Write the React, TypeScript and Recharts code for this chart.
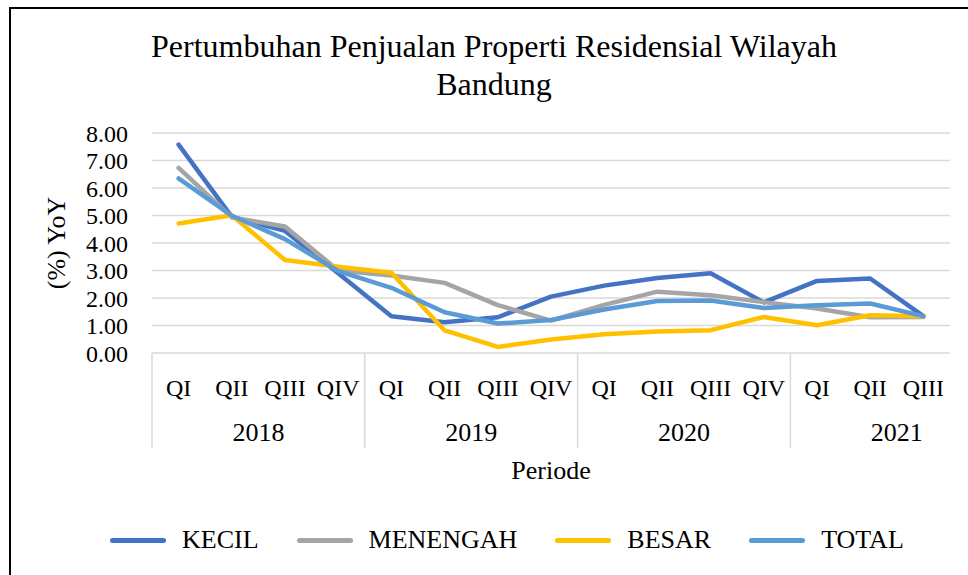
import { CartesianGrid, Line, LineChart, XAxis, YAxis } from 'recharts';

const quarters = ['QI', 'QII', 'QIII', 'QIV', 'QI', 'QII', 'QIII', 'QIV', 'QI', 'QII', 'QIII', 'QIV', 'QI', 'QII', 'QIII'];
const years = ['2018', '2018', '2018', '2018', '2019', '2019', '2019', '2019', '2020', '2020', '2020', '2020', '2021', '2021', '2021'];

const kecil = [7.58, 4.95, 4.44, 2.9, 1.34, 1.12, 1.3, 2.05, 2.45, 2.73, 2.9, 1.84, 2.62, 2.71, 1.34];
const menengah = [6.73, 4.93, 4.6, 3.0, 2.82, 2.55, 1.74, 1.18, 1.75, 2.23, 2.1, 1.85, 1.62, 1.3, 1.31];
const besar = [4.71, 5.01, 3.38, 3.14, 2.92, 0.82, 0.22, 0.49, 0.68, 0.78, 0.83, 1.31, 1.01, 1.37, 1.34];
const total = [6.35, 4.99, 4.14, 2.98, 2.37, 1.48, 1.07, 1.2, 1.58, 1.89, 1.91, 1.64, 1.74, 1.8, 1.34];

const yTicks = [0, 1, 2, 3, 4, 5, 6, 7, 8];

const series = [
  { key: 'kecil', name: 'KECIL', color: '#4472C4' },
  { key: 'menengah', name: 'MENENGAH', color: '#A5A5A5' },
  { key: 'besar', name: 'BESAR', color: '#FFC000' },
  { key: 'total', name: 'TOTAL', color: '#5B9BD5' },
];

const data = quarters.map((q, i) => ({
  id: i,
  q,
  year: years[i],
  kecil: kecil[i],
  menengah: menengah[i],
  besar: besar[i],
  total: total[i],
}));

const font = '"Liberation Serif", "Times New Roman", serif';
const gridColor = '#d9d9d9';
const band = 798 / quarters.length;

function QuarterTick(props: any) {
  const { x, y, payload } = props;
  const row = data[payload.value];
  const half = band / 2;
  return (
    <g>
      {row.q === 'QI' && (
        <line x1={x - half} x2={x - half} y1={y} y2={y + 95} stroke={gridColor} strokeWidth={1.5} />
      )}
      <text x={x} y={y + 43} textAnchor="middle" fontSize={24} fontFamily={font} fill="#000">
        {row.q}
      </text>
      {row.q === 'QII' && (
        <text x={x + half} y={y + 88} textAnchor="middle" fontSize={26} fontFamily={font} fill="#000">
          {row.year}
        </text>
      )}
    </g>
  );
}

function YLabel(props: any) {
  const { viewBox } = props;
  const cx = viewBox.x + 45;
  const cy = viewBox.y + viewBox.height / 2;
  return (
    <text
      x={cx}
      y={cy}
      transform={`rotate(-90 ${cx} ${cy})`}
      textAnchor="middle"
      dominantBaseline="central"
      fontSize={26}
      fontFamily={font}
      fill="#000"
    >
      (%) YoY
    </text>
  );
}

function XLabel(props: any) {
  const { viewBox } = props;
  return (
    <text
      x={viewBox.x + viewBox.width / 2}
      y={viewBox.y + 126}
      textAnchor="middle"
      fontSize={26}
      fontFamily={font}
      fill="#000"
    >
      Periode
    </text>
  );
}

export default function App() {
  return (
    <div
      style={{
        position: 'absolute',
        left: 9,
        top: 7,
        width: 959,
        height: 568,
        boxSizing: 'border-box',
        borderLeft: '2px solid #000',
        borderTop: '2px solid #000',
        overflow: 'hidden',
        background: '#fff',
        fontFamily: font,
      }}
    >
      <div
        style={{
          position: 'absolute',
          left: 0,
          top: 18,
          width: 966,
          textAlign: 'center',
          fontSize: 32,
          lineHeight: '38px',
          color: '#000',
        }}
      >
        Pertumbuhan Penjualan Properti Residensial Wilayah
        <br />
        Bandung
      </div>
      <div style={{ position: 'absolute', left: 0, top: 0 }}>
        <LineChart width={957} height={566} data={data} margin={{ top: 124, right: 18, bottom: 112, left: 0 }}>
          <CartesianGrid horizontal vertical={false} stroke={gridColor} strokeWidth={1.5} />
          <XAxis
            dataKey="id"
            scale="band"
            height={110}
            interval={0}
            axisLine={false}
            tickLine={false}
            tickSize={0}
            tickMargin={0}
            tick={<QuarterTick />}
            label={<XLabel />}
          />
          <YAxis
            domain={[0, 8]}
            ticks={yTicks}
            interval={0}
            width={141}
            axisLine={false}
            tickLine={false}
            tickSize={0}
            tickMargin={24}
            tickFormatter={(v: number) => v.toFixed(2)}
            tick={{ fontSize: 24, fontFamily: font, fill: '#000' }}
            label={<YLabel />}
          />
          {series.map((s) => (
            <Line
              key={s.key}
              dataKey={s.key}
              name={s.name}
              stroke={s.color}
              strokeWidth={4.5}
              strokeLinecap="round"
              strokeLinejoin="round"
              dot={false}
              activeDot={false}
              isAnimationActive={false}
            />
          ))}
        </LineChart>
      </div>
      <div
        style={{
          position: 'absolute',
          left: 99,
          top: 511,
          height: 40,
          display: 'flex',
          alignItems: 'center',
          fontSize: 26,
          color: '#000',
          whiteSpace: 'nowrap',
        }}
      >
        {series.map((s) => (
          <div key={s.key} style={{ display: 'flex', alignItems: 'center', marginRight: 38 }}>
            <div style={{ width: 56, height: 5, borderRadius: 3, background: s.color, marginRight: 16 }} />
            <span>{s.name}</span>
          </div>
        ))}
      </div>
    </div>
  );
}
